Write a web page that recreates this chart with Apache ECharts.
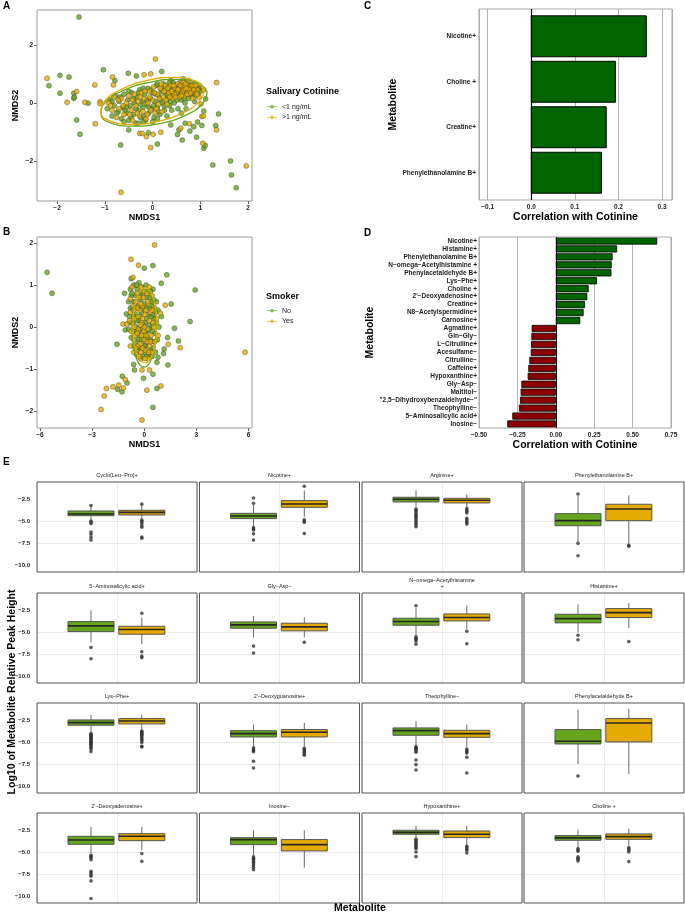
<!DOCTYPE html>
<html><head><meta charset="utf-8">
<script src="https://cdn.jsdelivr.net/npm/echarts@6.0.0/dist/echarts.min.js"></script>
<style>html,body{margin:0;padding:0;background:#fff}#c{width:685px;height:914px}</style>
</head><body><div id="c"></div>
<script>
// ================= DATA =================
// Panel A : NMDS coloured by salivary cotinine
const cotLowPts = [[-1.54,2.96],[-2.17,0.59],[-1.94,0.95],[-1.75,0.89],[-1.94,0.33],[-1.65,0.33],[-1.65,0.16],[-1.64,0.2],[-1.35,-0.01],[-1.59,-0.59],[-1.52,-1.08],[-1.03,1.14],[-0.79,0.77],[-0.67,-1.45],[-0.5,-0.93],[-0.51,1.02],[-0.34,0.93],[-0.09,-1.03],[0.1,-1.42],[0.19,1.08],[0.38,0.77],[0.38,-0.76],[0.52,-1.09],[0.55,-0.93],[0.62,-1.28],[0.68,-0.7],[0.78,-0.97],[0.86,-0.82],[0.92,-1.18],[0.94,-0.66],[0.97,0.45],[1.03,-0.78],[1.07,-1.56],[1.1,-1.47],[1.07,-0.28],[1.11,0.14],[1.38,-0.38],[1.32,-0.78],[1.26,-2.14],[1.63,-2.0],[1.65,-2.48],[1.75,-2.92],[0.64,0.83],
 [-0.95,-0.2],[-0.9,0.1],[-0.85,-0.45],[-0.8,-0.1],[-0.78,0.25],[-0.72,-0.3],[-0.7,0.05],[-0.65,-0.55],[-0.62,-0.15],[-0.6,0.3],[-0.55,-0.35],[-0.52,0.1],[-0.5,-0.6],[-0.47,-0.1],[-0.44,0.35],[-0.4,-0.4],[-0.38,0.0],[-0.35,-0.7],[-0.33,0.2],[-0.3,-0.25],[-0.27,0.45],[-0.25,-0.5],[-0.22,0.05],[-0.2,-0.15],[-0.17,0.3],[-0.15,-0.6],[-0.12,-0.05],[-0.1,0.5],[-0.08,-0.35],[-0.05,0.15],[-0.02,-0.2],[0.0,0.35],[0.03,-0.5],[0.05,0.05],[0.08,0.6],[0.1,-0.15],[0.13,0.25],[0.15,-0.4],[0.18,0.45],[0.2,0.0],[0.23,0.65],[0.25,-0.25],[0.28,0.3],[0.3,0.1],[0.33,0.55],[0.35,-0.1],[0.38,0.4],[0.4,0.2],[0.43,0.7],[0.45,0.0],[0.48,0.45],[0.5,0.25],[0.53,-0.2],[0.55,0.6],[0.58,0.35],[0.6,0.1],[0.63,0.5],[0.65,0.3],[0.68,0.0],[0.7,0.55],[0.73,0.4],[0.75,0.15],[0.78,0.45],[0.8,0.6],[0.82,0.25],[0.85,0.4],[0.88,0.05],[0.9,0.5],[0.95,0.3],[0.98,0.6],[-0.6,-0.65],[-0.3,-0.7],[0.0,-0.65],[0.3,-0.45],[0.6,-0.35],
 [-0.85,0.05],[-0.75,-0.35],[-0.68,0.2],[-0.58,-0.25],[-0.5,0.4],[-0.45,-0.5],[-0.4,0.15],[-0.35,-0.2],[-0.3,0.35],[-0.25,-0.05],[-0.2,0.5],[-0.18,-0.45],[-0.13,0.1],[-0.08,-0.15],[-0.03,0.45],[0.02,-0.1],[0.06,0.3],[0.1,0.65],[0.12,-0.3],[0.16,0.1],[0.2,0.4],[0.24,-0.1],[0.27,0.5],[0.31,0.25],[0.35,0.7],[0.37,0.05],[0.41,0.45],[0.44,0.3],[0.47,0.6],[0.51,0.1],[0.54,0.4],[0.57,0.7],[0.61,0.25],[0.64,0.6],[0.66,0.15],[0.69,0.45],[0.72,0.7],[0.76,0.3],[0.79,0.55],[0.83,0.35],[0.86,0.65],[0.89,0.25],[0.92,0.45],[0.96,0.5],[1.0,0.4],[-0.2,-0.65],[0.1,-0.55],[0.4,-0.25],[0.7,-0.2],[-0.55,-0.15]];
const cotHighPts = [[-2.21,0.85],[-1.79,0.02],[-1.59,0.39],[-1.42,0.02],[-1.21,0.62],[-1.2,-0.72],[-1.1,0.04],[-1.1,-0.02],[-0.84,0.89],[-0.82,0.62],[-0.66,-3.08],[-0.27,-1.05],[-0.22,-1.05],[-0.18,0.97],[-0.13,-1.16],[-0.04,1.0],[-0.04,-1.54],[0.01,-1.08],[0.06,1.51],[0.17,-1.01],[0.59,-0.87],[0.77,-0.72],[1.03,-0.47],[1.05,-1.39],[1.06,-0.45],[1.01,-0.04],[1.07,0.45],[1.34,0.7],[1.34,-0.93],[1.96,-2.17],[0.76,0.77],
 [-0.92,0.0],[-0.85,-0.25],[-0.8,0.2],[-0.75,-0.5],[-0.7,-0.2],[-0.65,0.15],[-0.6,-0.4],[-0.55,0.0],[-0.5,0.25],[-0.45,-0.25],[-0.42,-0.6],[-0.38,0.3],[-0.35,-0.1],[-0.3,0.05],[-0.28,-0.45],[-0.24,0.35],[-0.2,-0.3],[-0.18,0.15],[-0.14,-0.55],[-0.1,0.0],[-0.07,0.4],[-0.04,-0.25],[0.0,0.1],[0.02,0.55],[0.05,-0.35],[0.1,0.3],[0.12,-0.05],[0.16,0.5],[0.2,-0.3],[0.22,0.2],[0.26,0.6],[0.3,-0.05],[0.34,0.35],[0.38,0.6],[0.42,0.15],[0.46,0.5],[0.5,0.35],[0.52,0.65],[0.56,0.2],[0.6,0.45],[0.64,0.7],[0.67,0.25],[0.7,0.4],[0.74,0.6],[0.77,0.3],[0.8,0.5],[0.84,0.15],[0.87,0.55],[0.9,0.35],[0.94,0.45],[0.97,0.2],[0.55,0.5],[0.45,0.3],[0.65,0.55],[0.75,0.5],
 [-0.88,-0.1],[-0.72,0.1],[-0.62,-0.1],[-0.48,-0.4],[-0.42,0.1],[-0.32,-0.35],[-0.26,0.2],[-0.16,0.4],[-0.11,-0.4],[-0.06,0.2],[0.04,0.35],[0.08,-0.2],[0.14,0.15],[0.18,0.65],[0.24,0.4],[0.28,0.1],[0.32,0.5],[0.36,0.2],[0.4,0.4],[0.44,0.6],[0.48,0.2],[0.53,0.45],[0.58,0.6],[0.62,0.35],[0.66,0.45],[0.69,0.65],[0.72,0.3],[0.76,0.45],[0.8,0.35],[0.83,0.6],[0.86,0.45],[0.9,0.6],[0.93,0.3],[0.6,0.25],[0.7,0.5]];
const cotLowEllipse = [[1.14,0.38],[1.04,-0.03],[0.67,-0.44],[0.12,-0.72],[-0.44,-0.8],[-0.89,-0.68],[-1.08,-0.38],[-0.99,0.02],[-0.61,0.43],[-0.06,0.71],[0.51,0.81],[0.95,0.68]];
const cotHighEllipse = [[1.08,0.47],[0.98,0.06],[0.62,-0.35],[0.09,-0.64],[-0.46,-0.74],[-0.89,-0.62],[-1.08,-0.33],[-0.99,0.08],[-0.62,0.49],[-0.09,0.78],[0.46,0.88],[0.89,0.76]];

// Panel B : NMDS coloured by smoker status
const smokerNoPts = [[-5.59,1.3],[-5.3,0.8],[0,1.4],[0.5,1.46],[-0.75,1.15],[1.3,1.24],[0.98,1.04],[2.93,0.88],[-1.13,0.8],[1.55,0.55],[-1.03,0.31],[0.99,0.25],[-1.09,-0.07],[1.74,-0.03],[2.64,0.13],[-1.57,-0.41],[1.34,-0.25],[1.97,-0.33],[1.15,-0.52],[1.11,-0.63],[0.79,-0.72],[0.73,-0.84],[1.36,-0.9],[-0.61,-0.89],[-0.56,-1.02],[-0.04,-1.22],[0.5,-1.12],[-1.26,-1.17],[-0.99,-1.33],[-1.53,-1.48],[-1.28,-1.54],[0.73,-1.46],[0.5,-1.91],
 [-0.8,0.9],[-0.6,1.0],[-0.3,1.05],[0.1,1.0],[0.5,0.9],[-0.9,0.6],[-0.5,0.75],[-0.1,0.8],[0.3,0.7],[0.7,0.6],[-0.7,0.45],[-0.35,0.5],[0.0,0.55],[0.4,0.5],[0.8,0.4],[-0.85,0.25],[-0.5,0.3],[-0.15,0.35],[0.2,0.3],[0.55,0.2],[-0.65,0.1],[-0.3,0.15],[0.05,0.1],[0.45,0.05],[0.85,0.0],[-0.9,-0.05],[-0.55,-0.1],[-0.2,-0.05],[0.15,-0.1],[0.6,-0.15],[-0.75,-0.25],[-0.4,-0.3],[0.0,-0.25],[0.35,-0.3],[0.75,-0.3],[-0.6,-0.45],[-0.25,-0.5],[0.1,-0.45],[0.5,-0.5],[-0.45,-0.65],[-0.1,-0.7],[0.3,-0.65],[0.65,-0.6],[-0.2,0.65],[0.15,0.45],[-0.45,0.0],[0.3,-0.05],[-0.1,-0.35],[0.2,0.85],[-0.4,0.9],[0.55,0.65],[-0.75,0.75],[0.05,-0.6],[-0.3,-0.2],[0.4,0.25],
 [-0.7,0.8],[-0.45,1.0],[-0.15,0.95],[0.35,0.85],[-0.6,0.6],[-0.25,0.75],[0.1,0.7],[0.45,0.6],[-0.8,0.45],[-0.5,0.45],[-0.1,0.45],[0.3,0.45],[0.65,0.35],[-0.6,0.25],[-0.25,0.25],[0.15,0.2],[0.5,0.3],[-0.8,0.1],[-0.45,0.15],[-0.05,0.05],[0.3,0.05],[0.7,0.1],[-0.65,-0.1],[-0.3,-0.1],[0.05,-0.15],[0.45,-0.1],[-0.5,-0.35],[-0.15,-0.3],[0.2,-0.25],[0.55,-0.35],[-0.35,-0.55],[0.0,-0.45],[0.35,-0.55],[-0.2,-0.75],[0.15,-0.7],[0.45,-0.7]];
const smokerYesPts = [[0.59,1.95],[-0.76,1.61],[-0.33,1.47],[-0.65,1.18],[-0.8,0.67],[1.21,0.52],[0.92,0.33],[-1.22,0.07],[-1.0,0.07],[2.07,-0.49],[1.38,-0.41],[5.8,-0.6],[-0.13,-1.02],[0.3,-1.02],[-1.09,-1.25],[-1.8,-1.42],[-2.18,-1.46],[-1.47,-1.38],[-1.2,-1.45],[-2.3,-1.64],[0.15,-1.5],[0.96,-1.4],[-2.49,-1.96],[-0.13,-2.21],
 [-0.7,0.95],[-0.2,0.95],[0.3,0.95],[-0.5,0.6],[-0.05,0.7],[0.45,0.75],[-0.8,0.35],[-0.25,0.4],[0.1,0.4],[0.6,0.45],[-0.55,0.2],[-0.1,0.2],[0.3,0.15],[0.7,0.2],[-0.75,-0.1],[-0.35,-0.05],[0.0,-0.1],[0.4,-0.2],[-0.6,-0.3],[-0.15,-0.2],[0.2,-0.35],[0.6,-0.35],[-0.8,-0.45],[-0.35,-0.45],[0.05,-0.55],[0.4,-0.6],[-0.6,-0.6],[-0.2,-0.6],[0.2,-0.75],[-0.4,0.45],[0.0,0.0],[0.25,0.55],[-0.15,0.1],[-0.5,-0.2],[0.5,0.1],[-0.1,0.5],[0.1,-0.2],[-0.3,0.7],[0.35,0.35],[-0.65,0.5],[0.8,-0.2],[-0.85,0.15],[0.0,0.85],[-0.2,-0.4],[0.3,-0.45],
 [-0.4,0.8],[0.15,0.8],[-0.6,0.4],[-0.2,0.55],[0.2,0.6],[-0.35,0.25],[0.05,0.3],[0.45,0.4],[-0.55,0.0],[-0.2,0.05],[0.2,-0.05],[0.55,0.0],[-0.4,-0.15],[0.0,-0.3],[0.35,-0.35],[-0.5,-0.5],[-0.1,-0.5],[0.25,-0.6],[-0.3,-0.7],[0.05,-0.75]];
const smokerNoEllipse = [[0.69,-0.03],[0.60,0.43],[0.34,0.77],[-0.01,0.89],[-0.36,0.77],[-0.62,0.43],[-0.71,-0.03],[-0.62,-0.49],[-0.36,-0.83],[-0.01,-0.95],[0.34,-0.83],[0.60,-0.49]];
const smokerYesEllipse = [[0.73,0.04],[0.64,0.49],[0.39,0.81],[0.04,0.93],[-0.31,0.81],[-0.56,0.49],[-0.65,0.04],[-0.56,-0.41],[-0.31,-0.73],[0.04,-0.85],[0.39,-0.73],[0.64,-0.41]];

// Panel C
const cMetabolites = ['Nicotine+','Choline +','Creatine+','Phenylethanolamine B+'];
const cCorr = [0.264,0.193,0.172,0.161];

// Panel D
const dMetabolites = ['Nicotine+','Histamine+','Phenylethanolamine B+','N−omega−Acetylhistamine +','Phenylacetaldehyde B+','Lys−Phe+','Choline +',"2'−Deoxyadenosine+",'Creatine+','N8−Acetylspermidine+','Carnosine+','Agmatine+','Gln−Gly−','L−Citrulline+','Acesulfame−','Citrulline−','Caffeine+','Hypoxanthine+','Gly−Asp−','Maltitol−','"2,5−Dihydroxybenzaldehyde−"','Theophylline−','5−Aminosalicylic acid+','Inosine−'];
const dCorr = [0.660,0.399,0.370,0.364,0.362,0.268,0.214,0.205,0.190,0.181,0.159,-0.157,-0.159,-0.161,-0.163,-0.172,-0.179,-0.183,-0.224,-0.229,-0.233,-0.240,-0.283,-0.316];

// Panel E : [whiskerLow, Q1, median, Q3, whiskerHigh]
const eMetabolites = ['Cyclo(Leu−Pro)+','Nicotine+','Arginine+','Phenylethanolamine B+','5−Aminosalicylic acid+','Gly−Asp−','N−omega−Acetylhistamine\n+','Histamine+','Lys−Phe+',"2'−Deoxyguanosine+",'Theophylline−','Phenylacetaldehyde B+',"2'−Deoxyadenosine+",'Inosine−','Hypoxanthine+','Choline +'];
const eLowStats = [[-4.8,-4.35,-4.16,-3.82,-3.3],[-5.5,-4.68,-4.38,-4.08,-3.1],[-3.4,-2.80,-2.5,-2.27,-1.5],[-7.3,-5.48,-4.91,-4.12,-2.1],
 [-6.13,-4.90,-4.26,-3.77,-2.5],[-5.57,-4.52,-4.15,-3.81,-3.14],[-5.35,-4.19,-3.77,-3.40,-2.25],[-5.0,-3.92,-3.44,-2.95,-1.83],
 [-3.9,-3.06,-2.76,-2.46,-1.9],[-5.4,-4.38,-4.0,-3.67,-2.99],[-5.4,-4.19,-3.67,-3.36,-2.6],[-7.42,-5.17,-4.87,-3.55,-1.3],
 [-5.13,-4.08,-3.59,-3.18,-2.12],[-5.32,-4.12,-3.55,-3.33,-2.5],[-3.36,-2.95,-2.73,-2.5,-2.0],[-4.38,-3.63,-3.36,-3.1,-2.42]];
const eHighStats = [[-4.7,-4.27,-3.97,-3.74,-3.2],[-4.5,-3.40,-3.03,-2.65,-1.5],[-3.4,-2.91,-2.61,-2.39,-1.95],[-7.6,-4.91,-3.59,-3.06,-2.05],
 [-6.32,-5.2,-4.67,-4.3,-3.32],[-5.57,-4.82,-4.37,-3.96,-3.29],[-4.63,-3.70,-3.32,-2.91,-1.98],[-4.52,-3.32,-2.76,-2.31,-1.68],
 [-3.55,-2.91,-2.58,-2.31,-1.86],[-5.5,-4.38,-3.85,-3.55,-2.8],[-5.5,-4.42,-4.0,-3.63,-2.99],[-8.55,-4.94,-2.8,-2.31,-1.22],
 [-4.76,-3.67,-3.18,-2.88,-2.12],[-6.71,-4.83,-4.12,-3.55,-2.5],[-4.19,-3.33,-2.95,-2.58,-2.0],[-4.19,-3.52,-3.21,-2.91,-2.31]];
const eLowOutliers = [[-3.2,-4.95,-5.1,-5.25,-6.2,-6.45,-6.8,-7.1],[-2.35,-2.95,-5.7,-5.85,-5.95,-6.4,-7.1],[-3.6,-3.75,-3.9,-4.1,-4.3,-4.45,-4.6,-4.8,-5.0,-5.2,-5.4,-5.6],[-1.9,-7.47,-8.87],
 [-6.7,-7.97],[-6.54,-7.33],[-1.98,-5.5,-5.65,-5.8,-5.95,-6.32],[-5.31,-5.83],
 [-4.0,-4.1,-4.2,-4.3,-4.4,-4.5,-4.6,-4.7,-4.8,-4.9,-5.0,-5.1,-5.2,-5.3,-5.45,-5.6,-5.75,-6.03],[-5.6,-5.75,-5.9,-6.05,-7.12,-7.88],[-5.5,-5.6,-5.7,-5.8,-5.95,-6.1,-6.97,-7.5,-8.1],[-8.78],
 [-5.32,-5.45,-5.6,-5.81,-7.12,-7.3,-7.5,-7.69,-8.21,-10.2],[-5.5,-5.65,-5.8,-5.95,-6.1,-6.3,-6.5,-6.7,-6.94],[-3.5,-3.65,-3.8,-3.95,-4.1,-4.25,-4.4,-4.57,-4.94,-5.47],[-4.57,-4.72,-4.87,-5.5,-5.65,-5.8,-5.96]];
const eHighOutliers = [[-3.05,-4.85,-5.0,-5.2,-5.45,-5.65,-6.75,-6.9],[-1.03,-4.8,-4.95,-5.1,-6.35],[-3.55,-3.7,-3.85,-4.05,-4.65,-4.8,-5.0,-5.15,-5.3],[-7.7,-7.8],
 [-2.84,-7.18,-7.67,-7.85],[-6.1],[-4.86,-6.28],[-6.02],
 [-3.7,-3.8,-3.9,-4.0,-4.1,-4.2,-4.35,-4.5,-4.65,-4.8,-5.0,-5.43,-5.5],[-5.65,-5.8,-5.95,-6.1,-6.3,-6.45],[-5.73,-5.9,-6.05,-6.2,-6.67,-8.44],[],
 [-5.13,-6.0],[],[-4.3,-4.45,-4.6,-4.76,-5.06],[-4.45,-4.6,-4.75,-4.94,-6.03]];

// Tick labels
const ticksAx = [-2,-1,0,1,2], ticksAy = [-2,0,2];
const ticksBx = [-6,-3,0,3,6], ticksBy = [-2,-1,0,1,2];
const ticksC = [-0.1,0,0.1,0.2,0.3];
const ticksD = [-0.5,-0.25,0,0.25,0.5,0.75];
const ticksE = [-10,-7.5,-5,-2.5];

// ================= STYLE / LAYOUT =================
const FONT = 'Liberation Sans';
const GREEN = '#66A61E', ORANGE = '#E6AB02', DKGREEN = '#006400', DKRED = '#8B0000';
const E_COLS = [37, 199.5, 362, 524], E_ROWS = [482, 593, 703, 813];
const E_POS = [0.675, 1.31], E_HALF = 0.2875;

function fmt(ticks, dec) {
  return function (v) {
    for (const t of ticks) if (Math.abs(v - t) < 1e-6) return t.toFixed(dec).replace('-', '\u2212');
    return '';
  };
}
function valAxis(gi, min, max, ticks, dec, opts) {
  const step = Math.abs(ticks[1] - ticks[0]);
  const o = {
    gridIndex: gi, type: 'value', min: min, max: max, minInterval: step, maxInterval: step,
    axisLine: { show: false, onZero: false },
    axisTick: { show: true, length: 3, lineStyle: { color: '#333', width: 0.8 }, customValues: ticks },
    axisLabel: { customValues: ticks, formatter: fmt(ticks, dec), fontSize: 6.5, fontWeight: 'bold', color: '#1a1a1a', fontFamily: FONT, margin: 4 },
    splitLine: { show: false },
    nameTextStyle: { fontSize: 9, fontWeight: 'bold', color: '#000', fontFamily: FONT }
  };
  return Object.assign(o, opts || {});
}

const grids = [
  { left: 37, top: 10, width: 215, height: 191, show: true, borderColor: '#9a9a9a', borderWidth: 1, z: 3 },
  { left: 37, top: 237, width: 215, height: 191, show: true, borderColor: '#9a9a9a', borderWidth: 1, z: 3 },
  { left: 479, top: 9, width: 193, height: 191, show: true, borderColor: '#a8a8a8', borderWidth: 1, z: 3 },
  { left: 479, top: 237, width: 192, height: 191, show: true, borderColor: '#a8a8a8', borderWidth: 1, z: 3 }
];
const xAxes = [], yAxes = [], series = [];

// ---- A
xAxes.push(valAxis(0, -2.42, 2.08, ticksAx, 0, { name: 'NMDS1', nameLocation: 'middle', nameGap: 10 }));
yAxes.push(valAxis(0, -3.38, 3.2, ticksAy, 0, { name: 'NMDS2', nameLocation: 'middle', nameGap: 17, nameRotate: 90 }));
// ---- B
xAxes.push(valAxis(1, -6.17, 6.2, ticksBx, 0, { name: 'NMDS1', nameLocation: 'middle', nameGap: 12 }));
yAxes.push(valAxis(1, -2.4, 2.14, ticksBy, 0, { name: 'NMDS2', nameLocation: 'middle', nameGap: 17, nameRotate: 90 }));

function scatterS(idx, name, data, color) {
  return { type: 'scatter', name: name, xAxisIndex: idx, yAxisIndex: idx, data: data, symbolSize: 5,
    itemStyle: { color: color, borderColor: 'rgba(45,45,45,0.75)', borderWidth: 0.6 }, z: 2, silent: true };
}
function ellipseS(idx, name, pts, color) {
  return { type: 'line', name: name, xAxisIndex: idx, yAxisIndex: idx, data: pts.concat([pts[0]]), smooth: 0.5,
    showSymbol: false, lineStyle: { color: color, width: 1.3 }, itemStyle: { color: color }, z: 4, silent: true };
}
series.push(scatterS(0, '<1 ng/mL', cotLowPts, GREEN));
series.push(scatterS(0, '>1 ng/mL', cotHighPts, ORANGE));
series.push(ellipseS(0, '<1 ng/mL', cotLowEllipse, GREEN));
series.push(ellipseS(0, '>1 ng/mL', cotHighEllipse, ORANGE));
series.push(scatterS(1, 'No', smokerNoPts, GREEN));
series.push(scatterS(1, 'Yes', smokerYesPts, ORANGE));
series.push(ellipseS(1, 'No', smokerNoEllipse, GREEN));
series.push(ellipseS(1, 'Yes', smokerYesEllipse, ORANGE));

// ---- C
xAxes.push(valAxis(2, -0.12, 0.323, ticksC, 1, {
  name: 'Correlation with Cotinine', nameLocation: 'middle', nameGap: 9,
  nameTextStyle: { fontSize: 10.5, fontWeight: 'bold', color: '#000', fontFamily: FONT },
  axisTick: { show: false },
  splitLine: { show: true, lineStyle: { color: '#a0a0a0', width: 0.8 } }
}));
yAxes.push({
  gridIndex: 2, type: 'value', min: 0.4, max: 4.6, inverse: true, minInterval: 1, maxInterval: 1,
  axisLine: { show: false, onZero: false }, axisTick: { show: false }, splitLine: { show: false },
  axisLabel: { customValues: [1, 2, 3, 4], formatter: v => { const k = Math.round(v); return Math.abs(v - k) < 1e-6 && k >= 1 && k <= 4 ? cMetabolites[k - 1] : ''; },
    fontSize: 6.5, fontWeight: 'bold', color: '#1a1a1a', fontFamily: FONT, margin: 3 },
  name: 'Metabolite', nameLocation: 'middle', nameGap: 79, nameRotate: 90,
  nameTextStyle: { fontSize: 10.5, fontWeight: 'bold', color: '#000', fontFamily: FONT }
});
series.push({
  type: 'custom', xAxisIndex: 2, yAxisIndex: 2, silent: true, z: 2,
  data: cCorr.map((v, i) => [v, i + 1]), encode: { x: 0, y: 1 },
  renderItem: function (params, api) {
    const v = api.value(0), k = api.value(1);
    const p0 = api.coord([0, k]), p1 = api.coord([v, k]);
    const h = Math.abs(api.size([0, 0.9])[1]);
    return { type: 'rect', shape: { x: Math.min(p0[0], p1[0]), y: p0[1] - h / 2, width: Math.abs(p1[0] - p0[0]), height: h },
      style: { fill: DKGREEN, stroke: '#000', lineWidth: 1 } };
  },
  markLine: { silent: true, symbol: 'none', label: { show: false }, data: [{ xAxis: 0 }], lineStyle: { color: '#000', width: 1.2, type: 'solid' } }
});

// ---- D
xAxes.push(valAxis(3, -0.5, 0.75, ticksD, 2, {
  interval: 0.25,
  name: 'Correlation with Cotinine', nameLocation: 'middle', nameGap: 11,
  nameTextStyle: { fontSize: 10.5, fontWeight: 'bold', color: '#000', fontFamily: FONT },
  axisTick: { show: false },
  splitLine: { show: true, lineStyle: { color: '#a0a0a0', width: 0.8 } }
}));
yAxes.push({
  gridIndex: 3, type: 'category', data: dMetabolites, inverse: true,
  axisLine: { show: false, onZero: false }, axisTick: { show: false }, splitLine: { show: false },
  axisLabel: { interval: 0, fontSize: 6.5, fontWeight: 'bold', color: '#1a1a1a', fontFamily: FONT, margin: 2 },
  name: 'Metabolite', nameLocation: 'middle', nameGap: 101, nameRotate: 90,
  nameTextStyle: { fontSize: 10.5, fontWeight: 'bold', color: '#000', fontFamily: FONT }
});
series.push({
  type: 'bar', xAxisIndex: 3, yAxisIndex: 3, barWidth: '90%', silent: true,
  data: dCorr.map(v => ({ value: v, itemStyle: { color: v >= 0 ? DKGREEN : DKRED } })),
  itemStyle: { borderColor: '#000', borderWidth: 0.8 },
  markLine: { silent: true, symbol: 'none', label: { show: false }, data: [{ xAxis: 0 }], lineStyle: { color: '#000', width: 1, type: 'solid' } }
});

// ---- E
function boxRender(color) {
  return function (params, api) {
    const xc = api.value(0);
    const lo = api.value(1), q1 = api.value(2), md = api.value(3), q3 = api.value(4), hi = api.value(5);
    const tl = api.coord([xc - E_HALF, q3]), br = api.coord([xc + E_HALF, q1]);
    const ml = api.coord([xc - E_HALF, md]), mr = api.coord([xc + E_HALF, md]);
    const pl = api.coord([xc, lo]), ph = api.coord([xc, hi]);
    const c1 = api.coord([xc, q1]), c3 = api.coord([xc, q3]);
    return { type: 'group', children: [
      { type: 'line', shape: { x1: ph[0], y1: ph[1], x2: c3[0], y2: c3[1] }, style: { stroke: '#6a6a6a', lineWidth: 1 } },
      { type: 'line', shape: { x1: c1[0], y1: c1[1], x2: pl[0], y2: pl[1] }, style: { stroke: '#6a6a6a', lineWidth: 1 } },
      { type: 'rect', shape: { x: tl[0], y: tl[1], width: br[0] - tl[0], height: br[1] - tl[1] }, style: { fill: color, stroke: '#555', lineWidth: 1 } },
      { type: 'line', shape: { x1: ml[0], y1: ml[1], x2: mr[0], y2: mr[1] }, style: { stroke: '#262626', lineWidth: 1.6 } }
    ] };
  };
}
eMetabolites.forEach((m, i) => {
  const r = Math.floor(i / 4), c = i % 4, gi = 4 + i;
  grids.push({ left: E_COLS[c], top: E_ROWS[r], width: 160, height: 90, show: true, borderColor: '#555', borderWidth: 1, z: 3 });
  xAxes.push({ gridIndex: gi, type: 'value', min: 0, max: 2, interval: 1, position: 'top',
    axisLine: { show: false, onZero: false }, axisTick: { show: false }, axisLabel: { show: false },
    splitLine: { show: true, lineStyle: { color: '#e6e6e6', width: 0.8 } },
    name: m, nameLocation: 'middle', nameGap: 4,
    nameTextStyle: { fontSize: 5.5, color: '#1a1a1a', fontFamily: FONT, lineHeight: 6 } });
  yAxes.push({ gridIndex: gi, type: 'value', min: -10.7, max: -0.55, minInterval: 2.5, maxInterval: 2.5,
    axisLine: { show: false, onZero: false }, axisTick: { show: false, customValues: ticksE },
    axisLabel: { show: c === 0, customValues: ticksE, formatter: fmt(ticksE, 1), fontSize: 6, fontWeight: 'bold', color: '#1a1a1a', fontFamily: FONT, margin: 7 },
    splitLine: { show: true, showMinLine: false, showMaxLine: false, lineStyle: { color: '#e6e6e6', width: 0.8 } } });
  [[eLowStats, eLowOutliers, GREEN], [eHighStats, eHighOutliers, ORANGE]].forEach((g, k) => {
    const xc = E_POS[k];
    series.push({ type: 'custom', xAxisIndex: gi, yAxisIndex: gi, silent: true, z: 2,
      data: [[xc].concat(g[0][i])], encode: { x: 0, y: [1, 2, 3, 4, 5] }, renderItem: boxRender(g[2]) });
    series.push({ type: 'scatter', xAxisIndex: gi, yAxisIndex: gi, silent: true, z: 3,
      data: g[1][i].map(v => [xc, v]), symbolSize: 3.6, itemStyle: { color: '#333' } });
  });
});

// ---- text / legends
const LEG_ICON = 'path://M0,2.6H10V3.4H0Z M3.2,3A1.8,1.8,0,1,1,6.8,3A1.8,1.8,0,1,1,3.2,3Z';
function txt(x, y, text, size, weight, align, rot) {
  return { type: 'text', x: x, y: y, rotation: rot || 0, silent: true,
    style: { text: text, fontSize: size, fontWeight: weight, fontFamily: FONT, fill: '#000',
      align: align || 'left', verticalAlign: 'middle', textAlign: align || 'left', textVerticalAlign: 'middle' } };
}
const legendBase = { orient: 'vertical', padding: 0, itemWidth: 10, itemHeight: 6, itemGap: 2.6, icon: LEG_ICON, selectedMode: false,
  itemStyle: { borderWidth: 0 }, lineStyle: { width: 0 },
  textStyle: { fontSize: 7, color: '#1a1a1a', fontFamily: FONT, lineHeight: 8, padding: [0, 0, 0, 0] } };

const option = {
  animation: false,
  backgroundColor: '#fff',
  grid: grids, xAxis: xAxes, yAxis: yAxes, series: series,
  legend: [
    Object.assign({}, legendBase, { left: 267, top: 102.7, data: ['<1 ng/mL', '>1 ng/mL'] }),
    Object.assign({}, legendBase, { left: 267, top: 306.7, data: ['No', 'Yes'] })
  ],
  graphic: [
    txt(3, 6, 'A', 10, 'bold'),
    txt(3, 232, 'B', 10, 'bold'),
    txt(364, 6, 'C', 10, 'bold'),
    txt(364, 233, 'D', 10, 'bold'),
    txt(3, 462, 'E', 10, 'bold'),
    txt(266, 92, 'Salivary Cotinine', 9, 'bold'),
    txt(266, 297, 'Smoker', 9, 'bold'),
    txt(12, 692, 'Log10 of Metabolite Relative Peak Height', 10.5, 'bold', 'center', Math.PI / 2),
    txt(360, 908, 'Metabolite', 10.5, 'bold', 'center')
  ]
};
const chart = echarts.init(document.getElementById('c'), null, { renderer: 'canvas' });
chart.setOption(option);
</script></body></html>
